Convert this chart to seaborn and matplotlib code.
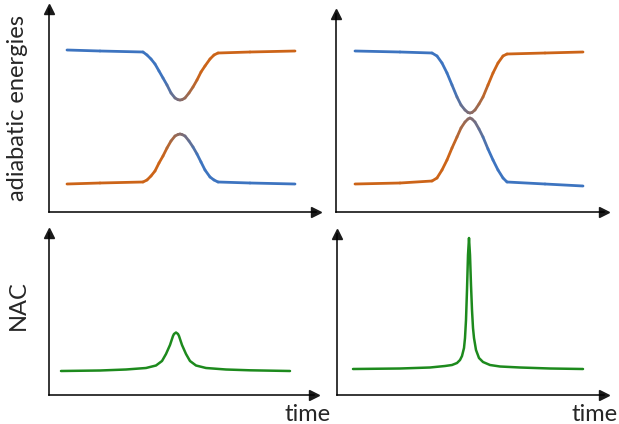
import numpy as np
import seaborn as sns
import matplotlib.pyplot as plt
from matplotlib.collections import LineCollection

# adiabatic energies, left panel (avoided crossing, wide gap)
t_wide = [18, 51, 94, 98, 102, 106, 110, 114, 118, 122, 126, 129, 131, 133, 136,
          140, 144, 148, 152, 156, 161, 165, 169, 201, 246]
e_wide_up = [162, 161, 160, 157, 153, 148, 141, 134, 127, 119, 114, 112.3, 112, 112.3, 114,
             119, 125, 132, 140, 146, 153, 157, 159, 160, 161]
e_wide_lo = [28, 29, 30, 32, 36, 41, 49, 56, 64, 71, 76, 77.5, 78, 77.5, 76,
             71, 65, 58, 50, 42, 35, 32, 30, 29, 28]

# adiabatic energies, right panel (narrow gap)
t_narrow = [19, 64, 96, 101, 106, 111, 116, 121, 125, 129, 132, 134, 136, 139, 143,
            147, 152, 157, 162, 167, 171, 209, 247]
e_narrow_up = [161, 160, 159, 156, 149, 139, 127, 115, 107, 102, 99.5, 99, 99.5, 102, 108,
               115, 127, 139, 149, 156, 158, 159, 160]
e_narrow_lo = [28, 29, 31, 34, 42, 52, 64, 75, 84, 90, 93, 94, 93, 90, 83,
               75, 63, 52, 42, 34, 30, 28, 26]

# nonadiabatic coupling
t_nac_wide = [12, 51, 77, 97, 107, 113, 117, 121, 124, 125, 127, 129, 130, 133,
              137, 141, 147, 157, 177, 201, 241]
nac_wide = [24, 24.5, 25.5, 27, 29.5, 34, 41, 50, 59, 61, 62.5, 61, 59, 50,
            41, 34, 29.5, 27, 25.5, 24.7, 24]

t_nac_narrow = [16, 63, 93, 108, 115, 120, 123, 125, 127, 128, 129, 130, 131, 132, 133,
                134, 135, 136, 137, 139, 142, 146, 153, 163, 183, 213, 246]
nac_narrow = [26, 26.5, 27.5, 29, 30, 32, 35, 39, 47, 57, 75, 105, 140, 157, 140,
              110, 85, 67, 57, 45, 37, 33, 30, 28.5, 27.5, 26.5, 26]

BLUE = "#3d74c0"
ORANGE = "#cc6418"
GREEN = "#1d8a1d"

sns.set_theme(style="white")
plt.rcParams['font.family'] = ['Lato', 'DejaVu Sans']

W, H = 619, 424
fig = plt.figure(figsize=(W / 100, H / 100), dpi=100)


def make_ax(x0, y0, x1, y1):
    # pixel box -> axes with 1 data unit per pixel
    ax = fig.add_axes([x0 / W, (H - y0) / H, (x1 - x0) / W, (y0 - y1) / H])
    ax.set_xlim(0, x1 - x0)
    ax.set_ylim(0, y0 - y1)
    ax.set_xticks([])
    ax.set_yticks([])
    sns.despine(ax=ax)
    for s in ("left", "bottom"):
        ax.spines[s].set_color("black")
        ax.spines[s].set_linewidth(1.1)
    ax.plot(1, 0, ">k", ms=7, transform=ax.get_yaxis_transform(), clip_on=False)
    ax.plot(0, 1, "^k", ms=7, transform=ax.get_xaxis_transform(), clip_on=False)
    return ax


def gradient_line(ax, t, e, a, b, start, end):
    t = np.asarray(t, float)
    e = np.asarray(e, float)
    pts = np.column_stack([t, e]).reshape(-1, 1, 2)
    segs = np.concatenate([pts[:-1], pts[1:]], axis=1)
    mid = (t[:-1] + t[1:]) / 2
    w = np.clip((mid - a) / (b - a), 0, 1)
    c0 = np.array(plt.matplotlib.colors.to_rgb(start))
    c1 = np.array(plt.matplotlib.colors.to_rgb(end))
    cols = (1 - w)[:, None] * c0 + w[:, None] * c1
    lc = LineCollection(segs, colors=cols, linewidths=2.0, capstyle="round", joinstyle="round")
    ax.add_collection(lc)


ax1 = make_ax(49, 212, 316, 9)
gradient_line(ax1, t_wide, e_wide_up, 114, 151, BLUE, ORANGE)
gradient_line(ax1, t_wide, e_wide_lo, 114, 151, ORANGE, BLUE)

ax2 = make_ax(336, 212, 604, 14)
gradient_line(ax2, t_narrow, e_narrow_up, 116, 154, BLUE, ORANGE)
gradient_line(ax2, t_narrow, e_narrow_lo, 116, 154, ORANGE, BLUE)

ax3 = make_ax(49, 395, 314, 233)
sns.lineplot(x=t_nac_wide, y=nac_wide, ax=ax3, color=GREEN, lw=1.8)

ax4 = make_ax(337, 395, 604, 234)
sns.lineplot(x=t_nac_narrow, y=nac_narrow, ax=ax4, color=GREEN, lw=1.8)
ax4.set_ylim(0, 161)

fig.text(18 / W, 1 - 108 / H, "adiabatic energies", rotation=90, ha="center", va="center", fontsize=17)
fig.text(18 / W, 1 - 305 / H, "NAC", rotation=90, ha="center", va="center", fontsize=17)
fig.text(331 / W, 1 - 421 / H, "time", ha="right", va="baseline", fontsize=17)
fig.text(618 / W, 1 - 421 / H, "time", ha="right", va="baseline", fontsize=17)

fig.savefig("out.png", dpi=100)
